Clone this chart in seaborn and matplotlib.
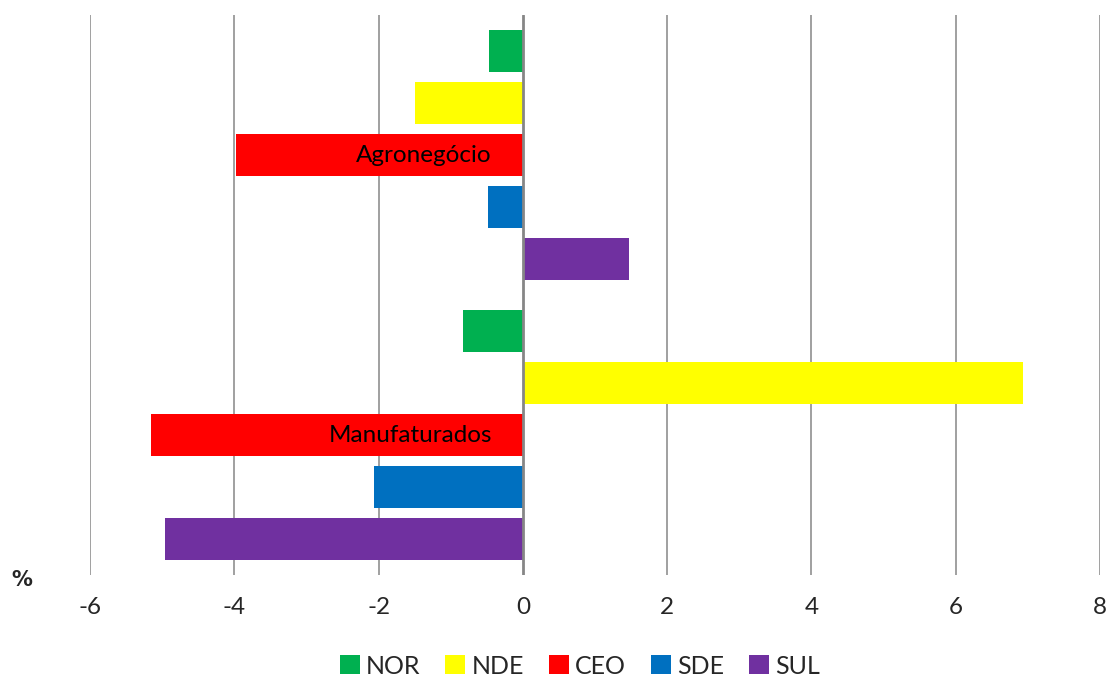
import matplotlib
matplotlib.use("Agg")
import matplotlib.pyplot as plt
from matplotlib.patches import Patch
import seaborn as sns
import pandas as pd

categories = ["Agronegócio", "Manufaturados"]
regions = ["NOR", "NDE", "CEO", "SDE", "SUL"]
agro = [-0.47, -1.49, -3.97, -0.48, 1.47]
manuf = [-0.83, 6.93, -5.15, -2.06, -4.96]
colors = ["#00B050", "#FFFF00", "#FF0000", "#0070C0", "#7030A0"]
x_ticks = [-6, -4, -2, 0, 2, 4, 6, 8]

rows = []
for cat, vals in zip(categories, [agro, manuf]):
    for r, v in zip(regions, vals):
        rows.append({"cat": cat, "reg": r, "val": v})
df = pd.DataFrame(rows)

sns.set_style("white")
plt.rcParams["font.family"] = ["Lato", "DejaVu Sans"]

fig = plt.figure(figsize=(11.06, 6.79), dpi=100)
ax = fig.add_axes([90 / 1106, 1 - 575 / 679, (1100 - 90) / 1106, 560 / 679])

for t in x_ticks:
    if t == 0:
        continue
    ax.axvline(t, color="#A0A0A0", lw=1.4, zorder=0)

sns.barplot(data=df, y="cat", x="val", hue="reg", order=categories,
            hue_order=regions, palette=colors, saturation=1, width=0.93, gap=0.19,
            linewidth=0, orient="h", legend=False, ax=ax, zorder=2)

ax.axvline(0, color="#868686", lw=2, zorder=3)

ax.set_xlim(x_ticks[0], x_ticks[-1])
ax.set_xticks(x_ticks)
ax.set_xticklabels([str(t) for t in x_ticks], fontsize=17.5)
ax.tick_params(axis="x", length=0, pad=16)
ax.set_yticks([])
ax.set_xlabel("")
ax.set_ylabel("")
for s in ax.spines.values():
    s.set_visible(False)

for i, cat in enumerate(categories):
    ax.annotate(cat, xy=(0, i), xytext=(-31, 0), textcoords="offset pixels",
                ha="right", va="center", fontsize=17.5, color="black", zorder=5)

fig.text(22 / 1106, 1 - 580 / 679, "%", fontsize=15, fontweight="bold",
         family=["DejaVu Sans"], ha="center", va="center")

handles = [Patch(facecolor=c, edgecolor="none", label=r) for r, c in zip(regions, colors)]
fig.legend(handles=handles, loc="center", bbox_to_anchor=(580 / 1106, 1 - 666 / 679),
           ncol=5, frameon=False, fontsize=18, handlelength=0.8, handleheight=0.8,
           handletextpad=0.25, columnspacing=1.0)

fig.savefig("out.png", dpi=100)
